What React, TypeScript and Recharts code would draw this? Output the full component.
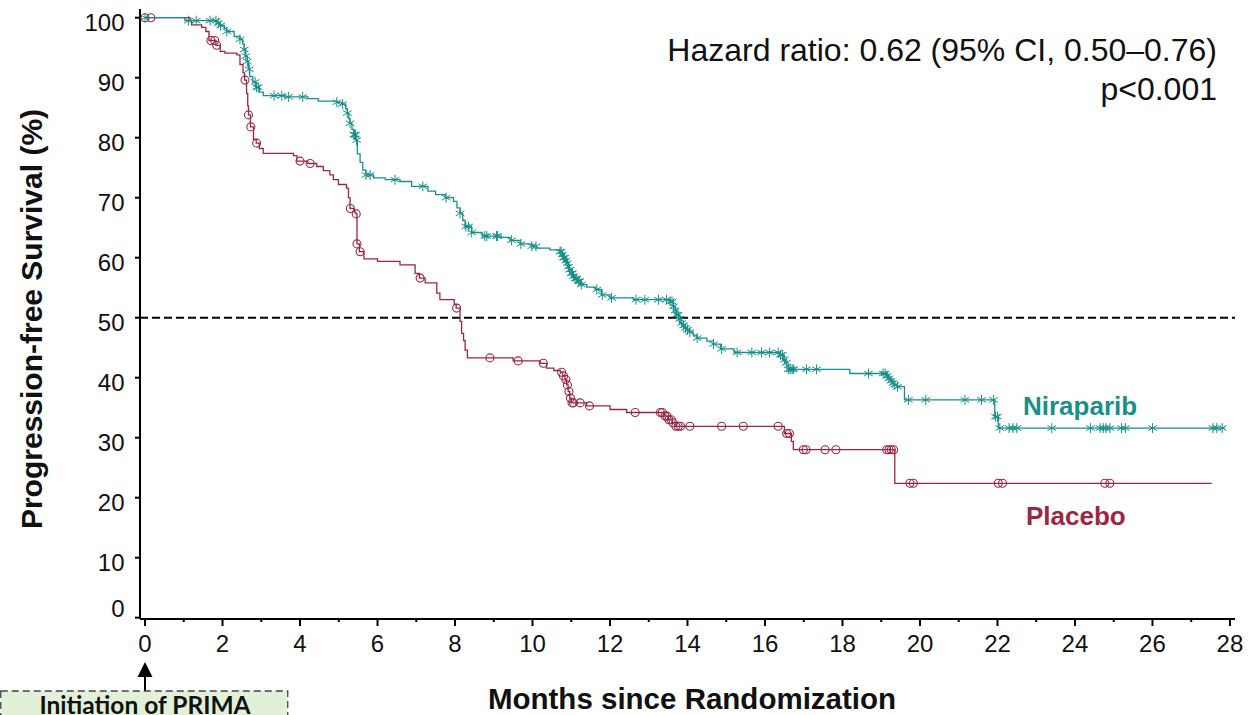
import React from "react";
import { ComposedChart, Line, Scatter, XAxis, YAxis, ReferenceLine } from "recharts";

const TEAL = "#17908a";
const RED = "#9c2743";
const FONT = "'Liberation Sans', Arial, sans-serif";

// Kaplan-Meier steps: [month, survival % from this month on]
const niraparibSteps: [number, number][] = [
  [0, 100], [1.03, 99.5], [1.86, 99.1], [1.93, 98.7], [2.05, 98.2], [2.11, 97.7],
  [2.3, 96.9], [2.45, 96.4], [2.52, 95.6], [2.56, 94.7], [2.6, 93.6], [2.64, 92.7],
  [2.67, 91.4], [2.7, 90.2], [2.78, 89.3], [2.86, 88.4], [2.95, 87.6], [3.05, 87.0],
  [3.6, 86.8], [4.2, 86.5], [4.47, 86.1], [4.95, 85.9], [5.1, 85.6], [5.18, 84.8],
  [5.22, 84.1], [5.26, 83.2], [5.29, 82.4], [5.34, 81.4], [5.39, 80.5], [5.44, 79.6],
  [5.48, 77.3], [5.55, 75.9], [5.62, 74.6], [5.7, 73.8], [5.9, 73.3], [6.2, 73.0],
  [6.58, 72.7], [6.88, 71.9], [7.3, 71.1], [7.5, 70.5], [7.75, 70.0], [7.96, 69.4],
  [8.05, 68.3], [8.13, 67.4], [8.2, 66.2], [8.26, 65.2], [8.43, 64.2], [8.7, 63.6],
  [9.2, 63.4], [9.42, 62.9], [9.68, 62.3], [9.98, 61.9], [10.1, 61.6], [10.45, 61.3],
  [10.71, 61.0], [10.75, 60.5], [10.8, 60.0], [10.84, 59.5], [10.88, 59.1], [10.92, 58.5],
  [10.95, 58.0], [11.0, 57.4], [11.05, 56.9], [11.1, 56.5], [11.15, 56.1], [11.23, 55.5],
  [11.4, 55.1], [11.62, 54.7], [11.78, 53.8], [12.0, 53.3], [12.6, 53.0], [13.55, 52.7],
  [13.63, 51.9], [13.68, 51.2], [13.72, 50.5], [13.77, 49.8], [13.81, 49.1], [13.86, 48.7],
  [13.92, 48.3], [14.0, 48.0], [14.06, 47.6], [14.15, 47.1], [14.24, 46.6], [14.5, 46.1],
  [14.67, 45.6], [14.85, 44.8], [15.2, 44.2], [16.4, 43.8], [16.47, 43.0], [16.52, 42.5],
  [16.56, 42.0], [16.6, 41.4], [18.19, 40.7], [19.15, 40.3], [19.2, 39.9], [19.25, 39.5],
  [19.3, 39.1], [19.35, 38.8], [19.42, 38.5], [19.6, 36.3], [21.93, 33.5], [22.02, 31.6],
  [27.87, 31.6],
];

const placeboSteps: [number, number][] = [
  [0, 100], [1.16, 99.5], [1.2, 98.8], [1.46, 98.4], [1.57, 97.7], [1.65, 96.2],
  [1.83, 95.4], [1.94, 94.4], [2.06, 94.1], [2.37, 93.8], [2.45, 92.2], [2.53, 90.8],
  [2.57, 89.6], [2.62, 87.4], [2.65, 85.3], [2.67, 83.8], [2.72, 81.8], [2.8, 79.7],
  [2.87, 79.1], [2.95, 78.2], [3.05, 77.4], [3.83, 77.0], [3.92, 76.1], [4.2, 75.7],
  [4.43, 75.2], [4.6, 74.5], [4.77, 73.8], [4.86, 73.0], [4.99, 72.2], [5.2, 71.6],
  [5.25, 70.0], [5.29, 68.2], [5.4, 67.6], [5.44, 67.3], [5.47, 62.3], [5.53, 61.0],
  [5.65, 59.8], [6.0, 59.4], [6.58, 58.8], [6.97, 57.4], [7.08, 56.6], [7.23, 55.8],
  [7.53, 54.1], [7.61, 53.0], [7.98, 52.2], [8.03, 51.6], [8.13, 49.4], [8.17, 47.4],
  [8.22, 46.2], [8.26, 44.6], [8.32, 43.3], [9.5, 42.8], [10.2, 42.4], [10.36, 41.6],
  [10.55, 41.2], [10.72, 40.9], [10.78, 40.3], [10.84, 39.7], [10.88, 38.8], [10.92, 37.7],
  [10.96, 36.6], [11.0, 35.8], [11.4, 35.3], [12.0, 34.7], [12.43, 34.2], [13.4, 33.6],
  [13.5, 33.0], [13.6, 32.5], [13.7, 31.9], [16.5, 30.7], [16.68, 29.4], [16.73, 28.0],
  [19.35, 22.4], [27.53, 22.4],
];

// censoring times (months)
const niraparibCensored = [
  0, 1.12, 1.32, 1.68, 1.83, 1.89, 1.95, 2.11, 2.45, 2.56, 2.6, 2.64, 2.69, 2.84, 2.88, 2.92,
  3.33, 3.53, 3.7, 4.07, 4.95, 5.1, 5.22, 5.29, 5.39, 5.41, 5.43, 5.46, 5.7, 5.81,
  6.45, 7.17, 7.77, 8.13, 8.28, 8.35, 8.43, 8.77, 8.82, 9.07, 9.1, 9.46, 9.7, 9.98, 10.09,
  10.71, 10.74, 10.77, 10.8, 10.83, 10.86, 10.9, 10.93, 10.96, 11.0, 11.03, 11.06, 11.1,
  11.14, 11.18, 11.22, 11.26, 11.66, 11.8, 12.04, 12.67, 12.9, 13.25, 13.46,
  13.55, 13.6, 13.64, 13.68, 13.72, 13.76, 13.8, 13.85, 13.9, 13.95, 14.0, 14.06,
  14.25, 14.67, 14.88, 15.28, 15.66, 15.91, 16.12, 16.34,
  16.4, 16.45, 16.5, 16.55, 16.6, 16.65, 16.7, 16.74, 17.07, 17.33, 18.67,
  19.05, 19.1, 19.15, 19.2, 19.25, 19.3, 19.35, 19.42, 19.7, 20.15, 21.16, 21.59, 21.9,
  21.95, 22.0, 22.06, 22.3, 22.4, 22.5, 23.4, 24.4, 24.65, 24.73, 24.8, 24.9, 25.2, 25.3,
  26.0, 27.56, 27.66, 27.8,
];

const placeboCensored = [
  0, 0.15, 1.7, 1.8, 1.85, 2.58, 2.67, 2.73, 2.88, 4.0, 4.26, 5.3, 5.45, 5.47, 5.55,
  7.1, 8.04, 8.9, 9.63, 10.28, 10.75, 10.8, 10.86, 10.9, 10.94, 10.98, 11.02, 11.06,
  11.23, 11.47, 12.65, 13.3, 13.35, 13.42, 13.47, 13.52, 13.58, 13.63, 13.7, 13.76, 13.82,
  14.06, 14.88, 15.44, 16.34, 16.56, 16.63, 16.99, 17.06, 17.55, 17.83,
  19.14, 19.2, 19.26, 19.32, 19.74, 19.83, 22.02, 22.13, 24.77, 24.9,
];

const xTicks = [0, 1, 2, 3, 4, 5, 6, 7, 8, 9, 10, 11, 12, 13, 14, 15, 16, 17, 18, 19, 20, 21, 22, 23, 24, 25, 26, 27, 28];
const yTicks = [0, 10, 20, 30, 40, 50, 60, 70, 80, 90, 100];

const X_DOMAIN: [number, number] = [-0.13, 28.13];
const Y_DOMAIN: [number, number] = [-0.22, 101.45];

const toPoints = (steps: [number, number][]) => steps.map(([t, s]) => ({ t, s }));

// survival value of the step curve at time t
const survivalAt = (steps: [number, number][], t: number) => {
  let s = steps[0][1];
  for (const [ti, si] of steps) {
    if (ti <= t + 1e-9) s = si;
    else break;
  }
  return s;
};

const niraparibLine = toPoints(niraparibSteps);
const placeboLine = toPoints(placeboSteps);
const niraparibMarks = niraparibCensored.map((t) => ({ t, s: survivalAt(niraparibSteps, t) }));
const placeboMarks = placeboCensored.map((t) => ({ t, s: survivalAt(placeboSteps, t) }));

const Asterisk = (props: any) => {
  const { cx, cy } = props;
  if (cx == null || cy == null) return null;
  return (
    <g stroke={TEAL} strokeWidth={1}>
      <line x1={cx} y1={cy - 5} x2={cx} y2={cy + 5} />
      <line x1={cx - 4.3} y1={cy - 2.5} x2={cx + 4.3} y2={cy + 2.5} />
      <line x1={cx - 4.3} y1={cy + 2.5} x2={cx + 4.3} y2={cy - 2.5} />
    </g>
  );
};

const OpenCircle = (props: any) => {
  const { cx, cy } = props;
  if (cx == null || cy == null) return null;
  return <circle cx={cx} cy={cy} r={4} fill="none" stroke={RED} strokeWidth={1.1} />;
};

const XTick = (props: any) => {
  const { x, y, payload } = props;
  const major = payload.value % 2 === 0;
  return (
    <g>
      <line x1={x} x2={x} y1={y} y2={y + (major ? 7 : 3)} stroke="#000" strokeWidth={2} />
      {major && (
        <text x={x} y={y + 33} textAnchor="middle" fontSize={24} fontFamily={FONT} fill="#111">
          {payload.value}
        </text>
      )}
    </g>
  );
};

const YTick = (props: any) => {
  const { x, y, payload } = props;
  // the "0" label sits higher than its tick in the original
  const dy = payload.value === 0 ? -1 : 13;
  return (
    <g>
      <line x1={x - 5} x2={x} y1={y} y2={y} stroke="#000" strokeWidth={2} />
      <text x={x - 15.5} y={y + dy} textAnchor="end" fontSize={24} fontFamily={FONT} fill="#111">
        {payload.value}
      </text>
    </g>
  );
};

export default function App() {
  return (
    <div style={{ position: "absolute", left: 0, top: 0, width: 1250, height: 715, overflow: "hidden", background: "#fff" }}>
      <ComposedChart width={1250} height={715} margin={{ top: 9, right: 15, bottom: 0, left: 0 }}>
        <XAxis
          dataKey="t"
          type="number"
          domain={X_DOMAIN}
          ticks={xTicks}
          interval={0}
          allowDataOverflow
          height={96}
          tickSize={0}
          tickMargin={0}
          tickLine={false}
          tick={<XTick />}
          axisLine={{ stroke: "#000", strokeWidth: 2 }}
        />
        <XAxis
          xAxisId="top"
          orientation="top"
          type="number"
          domain={X_DOMAIN}
          height={0}
          tick={false}
          tickLine={false}
          axisLine={{ stroke: "#000", strokeWidth: 2 }}
        />
        <YAxis
          type="number"
          domain={Y_DOMAIN}
          ticks={yTicks}
          interval={0}
          allowDataOverflow
          width={140}
          tickSize={0}
          tickMargin={0}
          tickLine={false}
          tick={<YTick />}
          axisLine={{ stroke: "#000", strokeWidth: 2 }}
        />
        <YAxis
          yAxisId="right"
          orientation="right"
          type="number"
          domain={Y_DOMAIN}
          width={0}
          tick={false}
          tickLine={false}
          axisLine={{ stroke: "#000", strokeWidth: 2 }}
        />
        <ReferenceLine y={50} stroke="#000" strokeWidth={2} strokeDasharray="8 4" />
        <Line
          data={placeboLine}
          dataKey="s"
          type="stepAfter"
          stroke={RED}
          strokeWidth={1.3}
          dot={false}
          isAnimationActive={false}
        />
        <Line
          data={niraparibLine}
          dataKey="s"
          type="stepAfter"
          stroke={TEAL}
          strokeWidth={1.3}
          dot={false}
          isAnimationActive={false}
        />
        <Scatter data={placeboMarks} dataKey="s" shape={<OpenCircle />} isAnimationActive={false} />
        <Scatter data={niraparibMarks} dataKey="s" shape={<Asterisk />} isAnimationActive={false} />
      </ComposedChart>

      <svg width={1250} height={715} style={{ position: "absolute", left: 0, top: 0, pointerEvents: "none" }}>
        <text x={1217} y={61} textAnchor="end" fontSize={32} fontFamily={FONT} fill="#111">
          Hazard ratio: 0.62 (95% CI, 0.50–0.76)
        </text>
        <text x={1217} y={99.5} textAnchor="end" fontSize={32} fontFamily={FONT} fill="#111">
          p&lt;0.001
        </text>
        <text x={1023} y={414.5} fontSize={26} fontWeight="bold" fontFamily={FONT} fill={TEAL}>
          Niraparib
        </text>
        <text x={1026} y={524.5} fontSize={26} fontWeight="bold" fontFamily={FONT} fill={RED}>
          Placebo
        </text>
        <text
          transform="translate(42,319) rotate(-90)"
          textAnchor="middle"
          fontSize={30}
          fontWeight="bold"
          fontFamily={FONT}
          fill="#111"
        >
          Progression-free Survival (%)
        </text>
        <text x={692} y={709} textAnchor="middle" fontSize={29.5} fontWeight="bold" fontFamily={FONT} fill="#111">
          Months since Randomization
        </text>

        <line x1={145} y1={691} x2={145} y2={675} stroke="#000" strokeWidth={2} />
        <polygon points="145,662 137.5,677 152.5,677" fill="#000" />
        <rect x={0.75} y={691} width={287} height={30} fill="#e2efd9" stroke="#444" strokeWidth={1.3} strokeDasharray="7 4" />
        <text x={145} y={714} textAnchor="middle" fontSize={24.5} fontWeight="bold" fontFamily="Lato, 'Open Sans', sans-serif" fill="#111">
          Initiation of PRIMA
        </text>
      </svg>
    </div>
  );
}
